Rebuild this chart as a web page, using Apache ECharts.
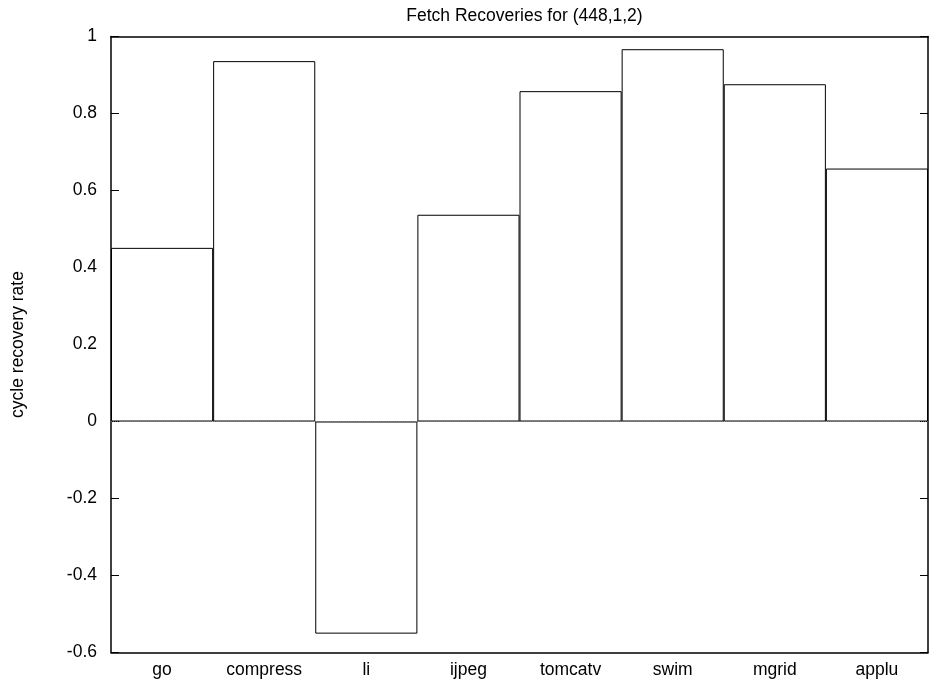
<!DOCTYPE html>
<html>
<head>
<meta charset="utf-8">
<script src="https://cdn.jsdelivr.net/npm/echarts@6/dist/echarts.min.js"></script>
<style>html,body{margin:0;padding:0;background:#fff}#c{width:932px;height:687px}</style>
</head>
<body>
<div id="c"></div>
<script>
const categories = ['go', 'compress', 'li', 'ijpeg', 'tomcatv', 'swim', 'mgrid', 'applu'];
const recoveryRate = [0.451, 0.936, -0.551, 0.537, 0.858, 0.967, 0.876, 0.657];
const yTicks = { min: -0.6, max: 1, interval: 0.2 };
const titleText = 'Fetch Recoveries for (448,1,2)';
const yName = 'cycle recovery rate';

const font = 'Liberation Sans, Arial, Helvetica, sans-serif';
const fs = 17.5;
const chart = echarts.init(document.getElementById('c'), null, { renderer: 'canvas' });
const fmt = v => {
  const r = Math.round(v * 10) / 10;
  if (r === 0) return '0';
  if (Number.isInteger(r)) return String(r);
  return r.toFixed(1);
};
chart.setOption({
  animation: false,
  backgroundColor: '#fff',
  title: {
    text: titleText, left: 519.5, textAlign: 'center', top: 2,
    textStyle: { fontFamily: font, fontSize: fs, fontWeight: 'normal', color: '#000' }
  },
  grid: { left: 111, right: 4, top: 36.5, bottom: 34.5, containLabel: false },
  xAxis: [{
    type: 'category', data: categories, position: 'bottom',
    boundaryGap: true,
    axisLine: { onZero: false, lineStyle: { color: '#000', width: 1.5 } },
    axisTick: { inside: true, alignWithLabel: true, length: 8, lineStyle: { color: '#000' } },
    axisLabel: { fontFamily: font, fontSize: fs, color: '#000', margin: 9 },
    splitLine: { show: false }
  }, {
    type: 'category', data: categories, position: 'top',
    boundaryGap: true,
    axisLine: { onZero: false, lineStyle: { color: '#000', width: 1.5 } },
    axisTick: { inside: true, alignWithLabel: true, length: 8, lineStyle: { color: '#000' } },
    axisLabel: { show: false },
    splitLine: { show: false }
  }],
  yAxis: [{
    type: 'value', min: yTicks.min, max: yTicks.max, interval: yTicks.interval,
    position: 'left',
    name: yName, nameLocation: 'middle', nameGap: 84, nameRotate: 90,
    nameTextStyle: { fontFamily: font, fontSize: fs, color: '#000' },
    axisLine: { show: true, onZero: false, lineStyle: { color: '#000', width: 1.5 } },
    axisTick: { show: true, inside: true, length: 8, lineStyle: { color: '#000' } },
    axisLabel: { fontFamily: font, fontSize: fs, color: '#000', margin: 14, formatter: fmt },
    splitLine: { show: false }
  }, {
    type: 'value', min: yTicks.min, max: yTicks.max, interval: yTicks.interval,
    position: 'right',
    axisLine: { show: true, onZero: false, lineStyle: { color: '#000', width: 1.5 } },
    axisTick: { show: true, inside: true, length: 8, lineStyle: { color: '#000' } },
    axisLabel: { show: false },
    splitLine: { show: false }
  }],
  series: [{
    type: 'bar',
    data: recoveryRate,
    xAxisIndex: 0, yAxisIndex: 0,
    barCategoryGap: 0,
    itemStyle: { color: '#fff', borderColor: '#000', borderWidth: 1 },
    emphasis: { disabled: true },
    markLine: {
      silent: true, symbol: 'none', label: { show: false },
      lineStyle: { color: '#666', type: [1, 1], width: 1 },
      data: [{ yAxis: 0 }]
    }
  }]
});
</script>
</body>
</html>
